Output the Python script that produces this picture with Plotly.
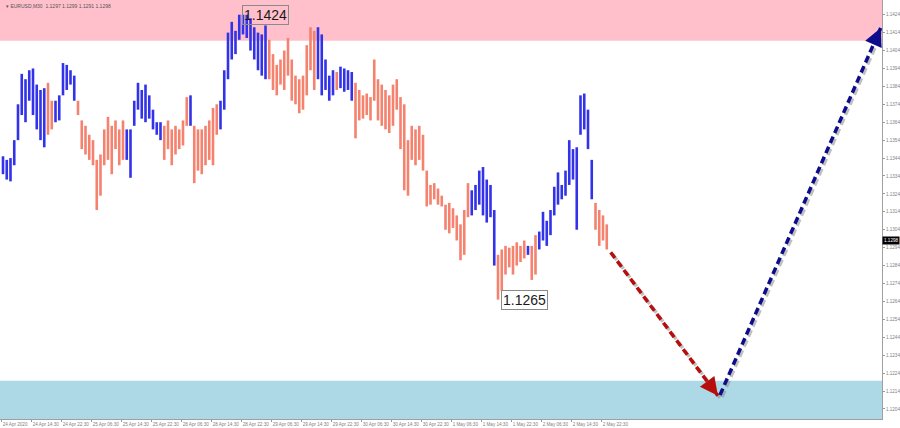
import plotly.graph_objects as go

# ---------------- data ----------------
symbol_info = "\u25be EURUSD,M30  1.1297 1.1299 1.1291 1.1298"
last_price = 1.1298

# each bar = one hour (two M30 candles), bar index counted in M30 units
bar_high = [
    1.1345, 1.1343, 1.1344, 1.1354, 1.1374, 1.1391, 1.1388, 1.1393, 1.1394, 1.1385,
    1.1382, 1.1383, 1.1386, 1.1376, 1.1376, 1.1379, 1.1397, 1.1396, 1.1393, 1.1390,
    1.1376, 1.1365, 1.1362, 1.1357, 1.1354, 1.1343, 1.1346, 1.1360, 1.1367, 1.1362,
    1.1365, 1.1360, 1.1365, 1.1360, 1.1360, 1.1376, 1.1386, 1.1382, 1.1385, 1.1379,
    1.1371, 1.1364, 1.1364, 1.1362, 1.1365, 1.1360, 1.1362, 1.1360, 1.1365, 1.1378,
    1.1379, 1.1362, 1.1360, 1.1360, 1.1362, 1.1365, 1.1372, 1.1374, 1.1376, 1.1393,
    1.1414, 1.1420, 1.1415, 1.1424, 1.1424, 1.1424, 1.1422, 1.1417, 1.1414, 1.1413,
    1.1418, 1.1410, 1.1402, 1.1396, 1.1399, 1.1404, 1.1411, 1.1399, 1.1390, 1.1388,
    1.1390, 1.1407, 1.1417, 1.1415, 1.1417, 1.1413, 1.1399, 1.1390, 1.1393, 1.1392,
    1.1395, 1.1394, 1.1393, 1.1392, 1.1386, 1.1382, 1.1379, 1.1380, 1.1378, 1.1399,
    1.1388, 1.1385, 1.1382, 1.1379, 1.1385, 1.1388, 1.1378, 1.1374, 1.1354, 1.1362,
    1.1360, 1.1362, 1.1357, 1.1337, 1.1329, 1.1330, 1.1327, 1.1323, 1.1318, 1.1319,
    1.1316, 1.1312, 1.1307, 1.1315, 1.1330, 1.1326, 1.1329, 1.1337, 1.1339, 1.1332,
    1.1329, 1.1315, 1.1290, 1.1293, 1.1295, 1.1294, 1.1295, 1.1297, 1.1295, 1.1298,
    1.1295, 1.1295, 1.1301, 1.1303, 1.1314, 1.1309, 1.1315, 1.1328, 1.1336, 1.1329,
    1.1337, 1.1354, 1.1349, 1.1350, 1.1379, 1.1380, 1.1371, 1.1343, 1.1319, 1.1315,
    1.1312, 1.1307,
]
bar_low = [
    1.1335, 1.1332, 1.1331, 1.1340, 1.1354, 1.1368, 1.1364, 1.1376, 1.1368, 1.1360,
    1.1354, 1.1350, 1.1357, 1.1360, 1.1364, 1.1365, 1.1379, 1.1382, 1.1385, 1.1376,
    1.1368, 1.1349, 1.1346, 1.1343, 1.1340, 1.1315, 1.1323, 1.1340, 1.1343, 1.1335,
    1.1349, 1.1340, 1.1343, 1.1343, 1.1333, 1.1362, 1.1371, 1.1366, 1.1364, 1.1366,
    1.1360, 1.1357, 1.1354, 1.1343, 1.1349, 1.1340, 1.1346, 1.1349, 1.1351, 1.1362,
    1.1362, 1.1330, 1.1337, 1.1335, 1.1340, 1.1343, 1.1340, 1.1357, 1.1360, 1.1371,
    1.1388, 1.1399, 1.1402, 1.1410, 1.1413, 1.1411, 1.1404, 1.1399, 1.1393, 1.1390,
    1.1388, 1.1388, 1.1382, 1.1379, 1.1385, 1.1382, 1.1390, 1.1376, 1.1374, 1.1369,
    1.1371, 1.1379, 1.1393, 1.1382, 1.1388, 1.1379, 1.1382, 1.1376, 1.1379, 1.1382,
    1.1383, 1.1381, 1.1382, 1.1376, 1.1355, 1.1365, 1.1366, 1.1368, 1.1365, 1.1376,
    1.1365, 1.1362, 1.1360, 1.1358, 1.1362, 1.1371, 1.1349, 1.1326, 1.1323, 1.1343,
    1.1340, 1.1343, 1.1337, 1.1317, 1.1318, 1.1321, 1.1318, 1.1317, 1.1304, 1.1302,
    1.1305, 1.1298, 1.1287, 1.1290, 1.1311, 1.1312, 1.1315, 1.1318, 1.1312, 1.1308,
    1.1311, 1.1284, 1.1265, 1.1270, 1.1279, 1.1283, 1.1279, 1.1284, 1.1286, 1.1288,
    1.1290, 1.1276, 1.1279, 1.1293, 1.1298, 1.1295, 1.1301, 1.1312, 1.1318, 1.1321,
    1.1323, 1.1329, 1.1332, 1.1304, 1.1357, 1.1360, 1.1349, 1.1321, 1.1304, 1.1295,
    1.1298, 1.1293,
]
# wave colouring of each bar: B = rising wave (blue), S = falling wave (salmon)
bar_wave = list(
    "BBBBBBBBBBBB" "SS" "BBBBBB" "SSSSSSSSSSSSS" "BBBBBBBBBB" "SSSSSSS" "B"
    "SSSSSSS" "BBBBBBBBBBBBB" "SSSSSSSSSSSSS" "BBBBB" "S" "BBBB"
    "SSSSSSSSSSSSSSSSSSSSSSSSSSSSSSS" "BBBBBBB" "SSSSSSSS" "B" "SS"
    "BBBBBBBBBBBBBBB" "SSSS"
)
assert len(bar_high) == len(bar_low) == len(bar_wave)

time_labels = [
    "24 Apr 2020", "24 Apr 14:30", "24 Apr 22:30", "25 Apr 06:30", "25 Apr 14:30",
    "25 Apr 22:30", "28 Apr 06:30", "28 Apr 14:30", "28 Apr 22:30", "29 Apr 06:30",
    "29 Apr 14:30", "29 Apr 22:30", "30 Apr 06:30", "30 Apr 14:30", "30 Apr 22:30",
    "1 May 06:30", "1 May 14:30", "1 May 22:30", "2 May 06:30", "2 May 14:30",
    "2 May 22:30",
]
price_ticks = [1.1204, 1.1214, 1.1224, 1.1234, 1.1244, 1.1254, 1.1264, 1.1274,
               1.1284, 1.1294, 1.1304, 1.1314, 1.1324, 1.1334, 1.1344, 1.1354,
               1.1364, 1.1374, 1.1384, 1.1394, 1.1404, 1.1414, 1.1424]

resistance_zone = [1.14095, 1.1450]
support_zone = [1.1190, 1.12198]

# forecast waves (bar index in M30 units, price)
down_wave_x = [324.8, 382.0]
down_wave_y = [1.12914, 1.12114]
up_wave_x = [383.1, 468.8]
up_wave_y = [1.12118, 1.14166]

# ---------------- figure ----------------
W, H = 900, 428
M_L, M_R, M_T, M_B = 0, 18, 0, 9
X_RANGE = [-0.9, 469.5]
Y_RANGE = [1.11984, 1.14322]
px_per_x = (W - M_L - M_R) / (X_RANGE[1] - X_RANGE[0])
px_per_y = (H - M_T - M_B) / (Y_RANGE[1] - Y_RANGE[0])

BLUE = "#3232e8"
SALMON = "#f4826e"
TICK_FONT = dict(family="Liberation Sans", size=4.6, color="#808080")

bar_x = [2 * i + 0.7 for i in range(len(bar_high))]

fig = go.Figure()

for key, col in (("B", BLUE), ("S", SALMON)):
    xs, ys = [], []
    for xi, h, l, w in zip(bar_x, bar_high, bar_low, bar_wave):
        if w == key:
            xs += [xi, xi, None]
            ys += [l, h, None]
    fig.add_trace(go.Scatter(x=xs, y=ys, mode="lines",
                             line=dict(color=col, width=2.6),
                             hoverinfo="skip", showlegend=False))


def add_wave(xv, yv, color):
    # shadow
    sx = [v + 2 / px_per_x for v in xv]
    sy = [v - 2 / px_per_y for v in yv]
    fig.add_trace(go.Scatter(x=sx, y=sy, mode="lines",
                             line=dict(color="rgba(140,140,140,0.55)", width=3.5, dash="7px,4px"),
                             hoverinfo="skip", showlegend=False))
    fig.add_trace(go.Scatter(x=xv, y=yv, mode="lines",
                             line=dict(color=color, width=3.5, dash="7px,4px"),
                             hoverinfo="skip", showlegend=False))
    dxp = (xv[1] - xv[0]) * px_per_x
    dyp = -(yv[1] - yv[0]) * px_per_y
    n = (dxp ** 2 + dyp ** 2) ** 0.5
    fig.add_annotation(x=xv[1], y=yv[1], ax=-dxp / n * 14, ay=-dyp / n * 14,
                       showarrow=True, arrowhead=2, arrowsize=1.2, arrowwidth=3,
                       arrowcolor=color, text="")


add_wave(down_wave_x, down_wave_y, "#b80d0d")
add_wave(up_wave_x, up_wave_y, "#0d0d8c")

# zones
fig.add_shape(type="rect", xref="paper", x0=0, x1=1, yref="y",
              y0=resistance_zone[0], y1=resistance_zone[1],
              fillcolor="#ffc0cb", line_width=0, layer="below")
fig.add_shape(type="rect", xref="paper", x0=0, x1=1, yref="y",
              y0=support_zone[0], y1=support_zone[1],
              fillcolor="#add8e6", line_width=0, layer="below")

# extreme labels
i_hi = max(range(len(bar_high)), key=lambda i: bar_high[i])
i_lo = min(range(len(bar_low)), key=lambda i: bar_low[i])
for i, val in ((i_hi, bar_high[i_hi]), (i_lo, bar_low[i_lo])):
    fig.add_annotation(x=bar_x[i] + 1.5, y=val, xanchor="left", yanchor="middle",
                       text=f"{val:.4f}", showarrow=False,
                       font=dict(family="Liberation Sans", size=14, color="#1a1a1a"),
                       bordercolor="#8a8a8a", borderwidth=1, borderpad=1)

# symbol header
fig.add_annotation(xref="paper", yref="paper", x=0.004, y=1, xanchor="left", yanchor="top",
                   yshift=-1, text=symbol_info, showarrow=False,
                   font=dict(family="Liberation Sans", size=5, color="#555555"))

# current price box
fig.add_annotation(xref="paper", x=1, y=last_price, xanchor="left", yanchor="middle",
                   text=f"{last_price:.4f}", showarrow=False, bgcolor="#000000",
                   font=dict(family="Liberation Sans", size=4.6, color="#ffffff"), borderpad=1)

fig.update_layout(
    width=W, height=H,
    margin=dict(l=M_L, r=M_R, t=M_T, b=M_B),
    paper_bgcolor="white", plot_bgcolor="white",
    showlegend=False,
    xaxis=dict(range=X_RANGE, showgrid=False, zeroline=False,
               tickvals=[16 * k for k in range(len(time_labels))],
               ticktext=time_labels, ticks="outside", ticklen=2, tickcolor="#999999",
               ticklabelposition="outside right", tickangle=0,
               tickfont=TICK_FONT,
               showline=True, linecolor="#a0a0a0", linewidth=1, mirror=True,
               automargin=False),
    yaxis=dict(range=Y_RANGE, side="right", showgrid=False, zeroline=False,
               tickvals=price_ticks, ticktext=[f"{v:.4f}" for v in price_ticks],
               ticks="outside", ticklen=2, tickcolor="#999999",
               tickfont=TICK_FONT,
               showline=True, linecolor="#a0a0a0", linewidth=1, mirror=True,
               automargin=False),
)

fig.write_html(
    "out.html",
    config={"displayModeBar": False},
    post_script="document.body.style.margin='0';document.body.style.overflow='hidden';",
)
